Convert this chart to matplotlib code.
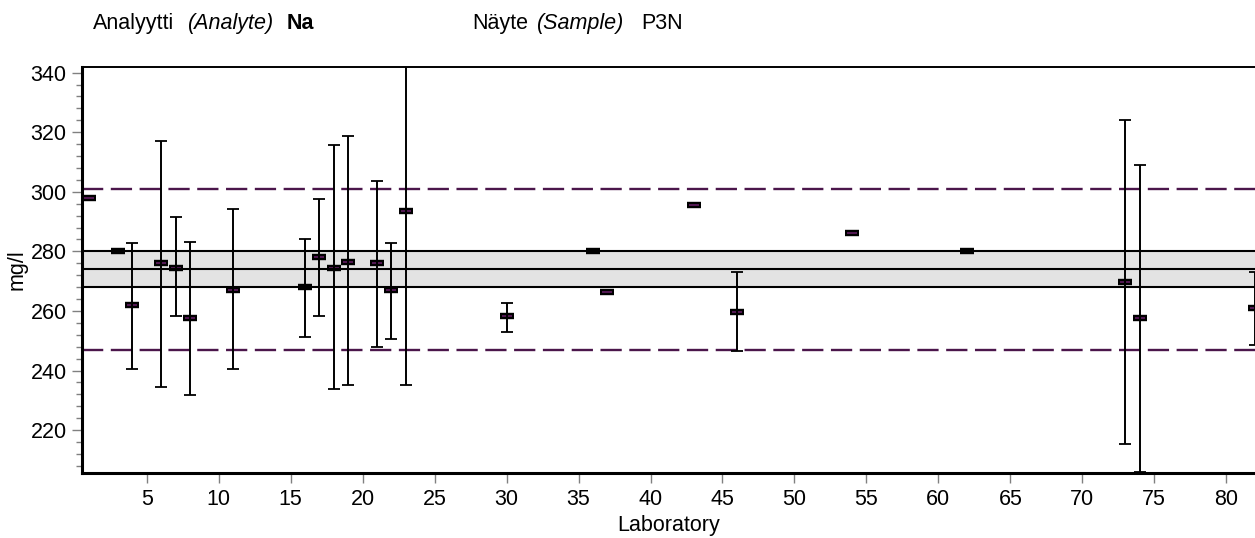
import numpy as np
import matplotlib
matplotlib.use("Agg")
import matplotlib.pyplot as plt
from matplotlib.ticker import MultipleLocator

plt.rcParams['font.family'] = ['Liberation Sans', 'DejaVu Sans']

# laboratory results (mg/l), lower/upper end of the reported uncertainty
labs = [1, 3, 4, 6, 7, 8, 11, 16, 17, 18, 19, 21, 22, 23, 30, 36, 37, 43, 46, 54, 62, 73, 74, 82]
values = [298, 280, 262, 276, 274.5, 257.5, 267, 268, 278, 274.5, 276.5, 276, 267, 293.6,
          258.2, 280, 266.3, 295.6, 259.6, 286.1, 280, 269.7, 257.5, 261]
lower = [np.nan, np.nan, 240.5, 234.4, 258.2, 231.7, 240.5, 251.4, 258.2, 233.7, 235, 248, 250.7, 235,
         252.8, np.nan, np.nan, np.nan, 246.6, np.nan, np.nan, 215.4, 206, 248.6]
upper = [np.nan, np.nan, 282.8, 317.2, 291.5, 283.3, 294.2, 284, 297.6, 315.8, 318.7, 303.7, 282.8, 352,
         262.7, np.nan, np.nan, np.nan, 273.1, np.nan, np.nan, 324.2, 309, 273.2]

assigned = 274
band = (268, 280)
limits = (247, 301)

purple = '#4b164b'
fs = 15.5

fig = plt.figure(figsize=(12.55, 5.38), dpi=100)
ax = fig.add_axes([82 / 1255, (538 - 472.7) / 538, 1173 / 1255, (472.7 - 67) / 538])

x = np.array(labs, dtype=float)
y = np.array(values, dtype=float)
lo = np.array(lower, dtype=float)
hi = np.array(upper, dtype=float)

# reference band and limits
ax.axhspan(band[0], band[1], color='#e3e3e3', zorder=1, lw=0)
for v in (band[0], assigned, band[1]):
    ax.axhline(v, color='black', lw=1.5, zorder=6)
for v in limits:
    ax.axhline(v, color=purple, lw=1.7, dashes=(9, 3.2), zorder=2)

# result markers: black box with purple dash
ax.plot(x, y, ls='none', marker='_', ms=10.5, mew=4.6, color='black', zorder=3)
ax.plot(x, y, ls='none', marker='_', ms=7, mew=1.1, color='#6a1f6a', zorder=4)

# uncertainty bars
m = ~np.isnan(lo)
_, caps, bars = ax.errorbar(x[m], y[m], yerr=[y[m] - lo[m], hi[m] - y[m]], fmt='none',
                            ecolor='black', elinewidth=1.4, capsize=4, capthick=1.3, zorder=5)
for c in caps:
    c.set_color(purple)

ax.set_xlim(0.5, 82)
ax.set_ylim(205.7, 341.9)
ax.xaxis.set_major_locator(MultipleLocator(5))
ax.yaxis.set_major_locator(MultipleLocator(20))
ax.yaxis.set_minor_locator(MultipleLocator(4))

ax.spines['right'].set_visible(False)
ax.spines['left'].set_linewidth(2.2)
ax.spines['bottom'].set_linewidth(2.2)
ax.spines['top'].set_linewidth(1.4)

ax.tick_params(axis='both', which='major', direction='out', length=7.5, width=1.0,
               color='#808080', labelsize=fs, labelcolor='black')
ax.tick_params(axis='y', which='major', pad=3.5)
ax.tick_params(axis='x', which='major', pad=4.5)
ax.tick_params(axis='y', which='minor', direction='out', length=4.3, width=1.0, color='#808080')

ax.set_xlabel('Laboratory', fontsize=fs, labelpad=3)
fig.text(17.5 / 1255, 1 - 269.5 / 538, 'mg/l', rotation=90, ha='center', va='center', fontsize=fs)

# header
ty = 1 - 29 / 538
fig.text(93 / 1255, ty, 'Analyytti', fontsize=fs, va='baseline')
fig.text(188 / 1255, ty, '(Analyte)', fontsize=fs, style='italic', va='baseline')
fig.text(287 / 1255, ty, 'Na', fontsize=fs, weight='bold', va='baseline')
fig.text(472 / 1255, ty, 'Näyte', fontsize=fs, va='baseline')
fig.text(537 / 1255, ty, '(Sample)', fontsize=fs, style='italic', va='baseline')
fig.text(641 / 1255, ty, 'P3N', fontsize=fs, va='baseline')

fig.savefig('out.png', dpi=100)
